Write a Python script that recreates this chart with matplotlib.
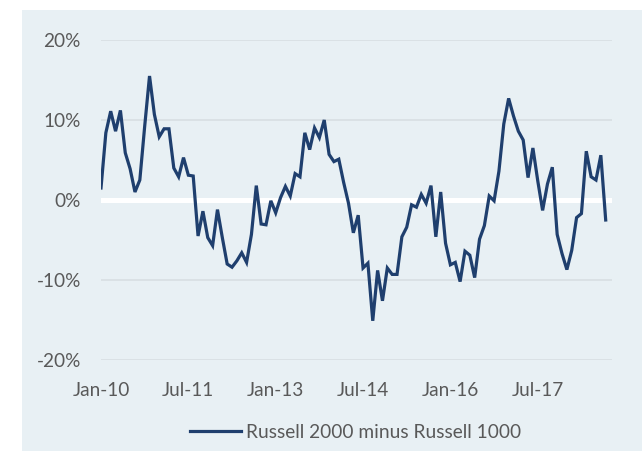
import matplotlib
matplotlib.use("Agg")
import matplotlib.pyplot as plt
from matplotlib.patches import Rectangle

# Monthly spread (%), Jan-2010 onward
values = [1.5, 8.4, 11.1, 8.6, 11.2, 5.9, 3.9, 1.0, 2.5, 9.2,
          15.5, 10.7, 7.9, 8.9, 8.9, 4.0, 2.9, 5.3, 3.1, 3.0,
          -4.5, -1.4, -4.7, -5.7, -1.2, -4.7, -8.0, -8.4, -7.6, -6.6,
          -7.8, -4.3, 1.8, -3.0, -3.1, -0.1, -1.6, 0.3, 1.7, 0.5,
          3.3, 2.9, 8.4, 6.3, 9.0, 7.8, 10.0, 5.7, 4.8, 5.1,
          2.2, -0.4, -4.1, -1.9, -8.5, -7.9, -15.1, -8.8, -12.6, -8.5,
          -9.3, -9.3, -4.6, -3.4, -0.6, -0.9, 0.7, -0.4, 1.8, -4.6,
          1.0, -5.4, -8.1, -7.8, -10.2, -6.4, -6.9, -9.7, -4.9, -3.2,
          0.5, -0.1, 3.6, 9.5, 12.7, 10.5, 8.6, 7.5, 2.8, 6.5,
          2.4, -1.3, 2.0, 4.1, -4.3, -6.7, -8.7, -6.3, -2.2, -1.7,
          6.1, 2.9, 2.5, 5.6, -2.5]
tick_index = [0, 18, 36, 54, 72, 90]
tick_labels = ["Jan-10", "Jul-11", "Jan-13", "Jul-14", "Jan-16", "Jul-17"]
y_ticks = [-20, -10, 0, 10, 20]
y_labels = ["-20%", "-10%", "0%", "10%", "20%"]
series_name = "Russell 2000 minus Russell 1000"

W, H = 642, 451
fig = plt.figure(figsize=(W / 100, H / 100), dpi=100)
fig.patch.set_facecolor("white")
panel_color = "#E8F0F4"
panel = Rectangle((22 / W, 0), 1 - 22 / W, 1 - 10 / H,
                  transform=fig.transFigure, facecolor=panel_color,
                  edgecolor="none", zorder=-10)
fig.patches.append(panel)

ax = fig.add_axes([101 / W, 1 - 360 / H, (612 - 101) / W, 320 / H])
ax.set_zorder(5)
ax.set_facecolor("none")
ax.patch.set_alpha(0)
for s in ax.spines.values():
    s.set_visible(False)

x = list(range(len(values)))
ax.set_xlim(0, 105.3)
ax.set_ylim(-20, 20)

for yv in y_ticks:
    if yv == 0:
        ax.axhline(0, color="white", lw=3.6, zorder=2)
    else:
        ax.axhline(yv, color="#D7DDE1", lw=1.1, zorder=1)

line, = ax.plot(x, values, color="#1F3F6E", lw=2.3, zorder=3,
                solid_joinstyle="miter", label=series_name)

font = "Lato"
ax.set_xticks(tick_index)
ax.set_xticklabels(tick_labels, fontsize=13.7, color="#595959", family=font)
ax.set_yticks(y_ticks)
ax.set_yticklabels(y_labels, fontsize=13.7, color="#595959", family=font)
ax.tick_params(axis="x", length=0, pad=16)
ax.tick_params(axis="y", length=0, pad=14.5)

leg = fig.legend(handles=[line], labels=[series_name], loc="center",
                 bbox_to_anchor=(355.5 / W, 1 - 432 / H), frameon=False,
                 prop={"family": font, "size": 13.8}, handlelength=2.7,
                 handletextpad=0.25, labelcolor="#595959")
leg.set_zorder(6)

fig.savefig("out.png", dpi=100, facecolor="white")
